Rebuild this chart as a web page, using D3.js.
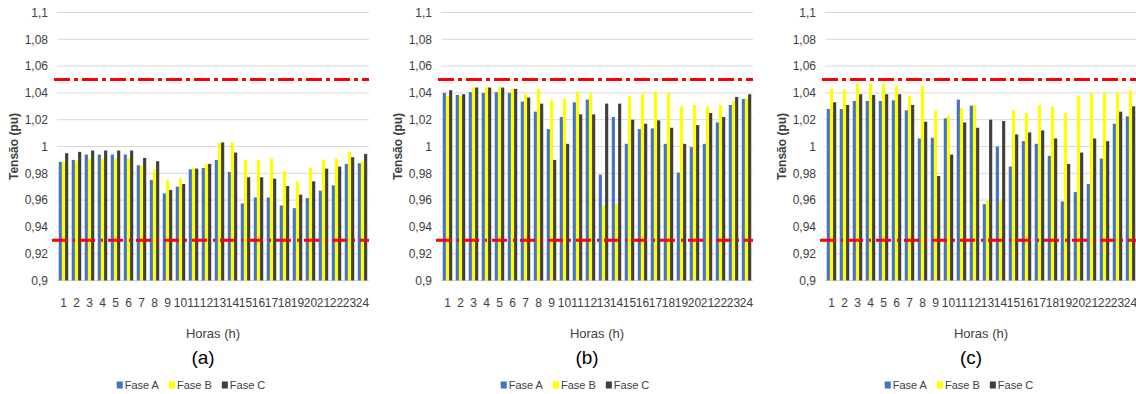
<!DOCTYPE html>
<html>
<head>
<meta charset="utf-8">
<script src="https://cdn.jsdelivr.net/npm/d3@7"></script>
<style>
  body { margin: 0; background: #fff; }
  svg { display: block; font-family: "Liberation Sans Narrow", "Arial Narrow", "Liberation Sans", sans-serif; }
</style>
</head>
<body>
<div id="chart"></div>
<script>
// horas do dia
const hours = d3.range(1, 25).map(String);
const phases = ['Fase A', 'Fase B', 'Fase C'];
const phaseColors = ['#4472C4', '#FFFF00', '#404040'];
const yTicks = [0.9, 0.92, 0.94, 0.96, 0.98, 1, 1.02, 1.04, 1.06, 1.08, 1.1];
const limitHigh = 1.05;
const limitLow = 0.93;

// (a)
const aFaseA = [0.9885, 0.990, 0.994, 0.994, 0.994, 0.994, 0.986, 0.975, 0.965, 0.970, 0.983, 0.984,
                0.990, 0.981, 0.9575, 0.962, 0.962, 0.956, 0.954, 0.9615, 0.967, 0.971, 0.987, 0.9875];
const aFaseB = [0.9885, 0.9895, 0.991, 0.991, 0.991, 0.991, 0.9855, 0.983, 0.975, 0.976, 0.984, 0.987,
                1.003, 1.003, 0.990, 0.990, 0.991, 0.9815, 0.974, 0.984, 0.990, 0.991, 0.996, 0.989];
const aFaseC = [0.995, 0.996, 0.997, 0.997, 0.997, 0.997, 0.9915, 0.989, 0.9675, 0.972, 0.9835, 0.987,
                1.003, 0.9955, 0.977, 0.977, 0.976, 0.9705, 0.964, 0.974, 0.9835, 0.985, 0.992, 0.9945];
// (b)
const bFaseA = [1.040, 1.0385, 1.0405, 1.040, 1.0405, 1.040, 1.0335, 1.026, 1.013, 1.022, 1.033, 1.035,
                0.979, 1.022, 1.002, 1.013, 1.0135, 1.002, 0.9805, 0.9995, 1.002, 1.018, 1.031, 1.0355];
const bFaseB = [1.0375, 1.038, 1.044, 1.044, 1.044, 1.043, 1.039, 1.043, 1.035, 1.0355, 1.041, 1.0395,
                0.956, 0.957, 1.0375, 1.039, 1.041, 1.0395, 1.030, 1.031, 1.030, 1.031, 1.034, 1.036];
const bFaseC = [1.042, 1.039, 1.044, 1.044, 1.044, 1.043, 1.0365, 1.032, 0.990, 1.002, 1.024, 1.024,
                1.032, 1.032, 1.020, 1.017, 1.0195, 1.014, 1.002, 1.016, 1.025, 1.022, 1.037, 1.039];
// (c)
const cFaseA = [1.028, 1.028, 1.034, 1.034, 1.034, 1.0345, 1.027, 1.006, 1.0065, 1.021, 1.035, 1.0305,
                0.957, 1.000, 0.985, 1.004, 1.002, 0.993, 0.959, 0.966, 0.972, 0.991, 1.017, 1.0225];
const cFaseB = [1.043, 1.0425, 1.047, 1.047, 1.047, 1.0455, 1.038, 1.045, 1.027, 1.023, 1.029, 1.031,
                0.9595, 0.9595, 1.027, 1.025, 1.031, 1.0295, 1.025, 1.038, 1.0395, 1.040, 1.0405, 1.042];
const cFaseC = [1.033, 1.031, 1.039, 1.0385, 1.039, 1.039, 1.031, 1.0185, 0.978, 0.994, 1.018, 1.014,
                1.020, 1.019, 1.009, 1.0105, 1.012, 1.006, 0.987, 0.9955, 1.006, 1.004, 1.026, 1.030];

const panels = [
  { label: '(a)', series: [aFaseA, aFaseB, aFaseC] },
  { label: '(b)', series: [bFaseA, bFaseB, bFaseC] },
  { label: '(c)', series: [cFaseA, cFaseB, cFaseC] }
];

const width = 1136, height = 394;
const plotW = 312, panelGap = 384, firstLeft = 57;
const yTop = 12.5, yBottom = 280.5;

const svg = d3.select('#chart').append('svg')
  .attr('width', width)
  .attr('height', height);

const y = d3.scaleLinear().domain([0.9, 1.1]).range([yBottom, yTop]);
const fmt = v => String(+v.toFixed(2)).replace('.', ',');

panels.forEach((p, pi) => {
  const left = firstLeft + pi * panelGap;
  const cx = left + plotW / 2;
  const g = svg.append('g');

  const x0 = d3.scaleBand().domain(hours).range([left, left + plotW]).paddingInner(0.27).paddingOuter(0.135);
  const x1 = d3.scaleBand().domain(phases).range([0, x0.bandwidth()]);

  // grelha
  g.append('g').selectAll('line')
    .data(yTicks)
    .join('line')
    .attr('x1', left).attr('x2', left + plotW)
    .attr('y1', d => y(d)).attr('y2', d => y(d))
    .attr('stroke', '#d9d9d9').attr('stroke-width', 1);

  // rótulos do eixo y
  g.append('g').selectAll('text')
    .data(yTicks)
    .join('text')
    .attr('x', left - 9)
    .attr('y', d => y(d))
    .attr('dy', '0.35em')
    .attr('text-anchor', 'end')
    .attr('font-size', 12)
    .attr('fill', '#404040')
    .text(fmt);

  g.append('text')
    .attr('transform', `translate(${left - 39},${y(1)}) rotate(-90)`)
    .attr('text-anchor', 'middle')
    .attr('font-size', 12)
    .attr('font-weight', 'bold')
    .attr('fill', '#404040')
    .style('font-family', '"Liberation Sans", sans-serif')
    .text('Tensão (pu)');

  // barras
  const rows = hours.map((h, i) => ({ h, vals: p.series.map(s => s[i]) }));
  g.append('g').selectAll('g')
    .data(rows)
    .join('g')
    .attr('transform', d => `translate(${x0(d.h)},0)`)
    .selectAll('rect')
    .data(d => d.vals.map((v, k) => ({ v, k })))
    .join('rect')
    .attr('x', d => x1(phases[d.k]))
    .attr('width', x1.bandwidth())
    .attr('y', d => y(d.v))
    .attr('height', d => y(0.9) - y(d.v))
    .attr('fill', d => phaseColors[d.k]);

  // limites
  g.append('line')
    .attr('x1', left - 3).attr('x2', left + plotW)
    .attr('y1', y(limitHigh)).attr('y2', y(limitHigh))
    .attr('stroke', '#ff0000').attr('stroke-width', 3)
    .attr('stroke-dasharray', '16,4,4,4');
  g.append('line')
    .attr('x1', left - 5).attr('x2', left + plotW)
    .attr('y1', y(limitLow)).attr('y2', y(limitLow))
    .attr('stroke', '#ff0000').attr('stroke-width', 3)
    .attr('stroke-dasharray', '15,6,2,5');

  // eixo x
  g.append('g').selectAll('text')
    .data(hours)
    .join('text')
    .attr('x', d => x0(d) + x0.bandwidth() / 2)
    .attr('y', 303)
    .attr('dy', '0.35em')
    .attr('text-anchor', 'middle')
    .attr('font-size', 12)
    .attr('fill', '#404040')
    .text(d => d);

  g.append('text')
    .attr('x', cx).attr('y', 333).attr('dy', '0.35em')
    .attr('text-anchor', 'middle')
    .attr('font-size', 13)
    .attr('fill', '#404040')
    .text('Horas (h)');

  g.append('text')
    .attr('x', cx - 10).attr('y', 357).attr('dy', '0.35em')
    .attr('text-anchor', 'middle')
    .attr('font-size', 19)
    .attr('fill', '#000')
    .text(p.label);

  // legenda: posições a partir da largura do texto
  const lg = g.append('g');
  const items = lg.selectAll('g')
    .data(phases)
    .join('g');
  items.append('rect')
    .attr('x', 0).attr('y', -3.5).attr('width', 6).attr('height', 7)
    .attr('fill', (d, i) => phaseColors[i]);
  items.append('text')
    .attr('x', 8).attr('dy', '0.35em')
    .attr('font-size', 11)
    .attr('fill', '#404040')
    .text(d => d);
  let offset = 0;
  items.each(function () {
    const w = d3.select(this).select('text').node().getComputedTextLength();
    d3.select(this).attr('transform', `translate(${offset},385)`);
    offset += 8 + w + 10;
  });
  const total = offset - 10;
  lg.attr('transform', `translate(${cx - 22 - total / 2},0)`);
});
</script>
</body>
</html>
